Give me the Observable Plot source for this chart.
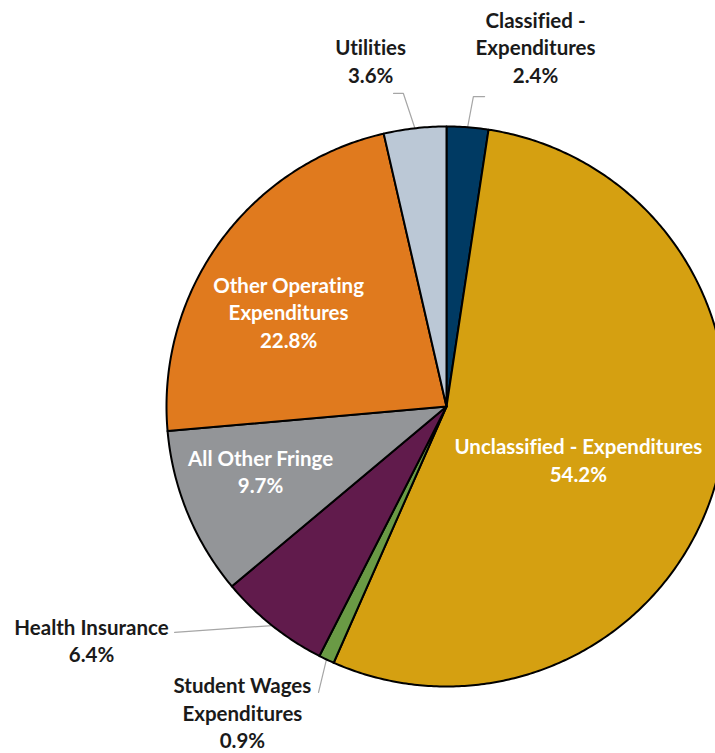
<!DOCTYPE html>
<html>
<head>
<meta charset="utf-8">
<script src="https://cdn.jsdelivr.net/npm/d3@7"></script>
<script src="https://cdn.jsdelivr.net/npm/@observablehq/plot@0.6"></script>
<style>
  html, body { margin: 0; padding: 0; background: #fff; overflow: hidden; }
  #chart svg { display: block; }
  #chart text { font-variant-ligatures: none; }
</style>
</head>
<body>
<div id="chart"></div>
<script>
// ---- Data ----
const categories = [
  "Classified - Expenditures",
  "Unclassified - Expenditures",
  "Student Wages Expenditures",
  "Health Insurance",
  "All Other Fringe",
  "Other Operating Expenditures",
  "Utilities"
];
const shares = [2.4, 54.2, 0.9, 6.4, 9.7, 22.8, 3.6];
const labelLines = [
  ["Classified -", "Expenditures"],
  ["Unclassified - Expenditures"],
  ["Student Wages", "Expenditures"],
  ["Health Insurance"],
  ["All Other Fringe"],
  ["Other Operating", "Expenditures"],
  ["Utilities"]
];
const sliceColors = ["#003A63", "#D5A011", "#6A9A45", "#611B4C", "#939598", "#E07A1E", "#BBC8D6"];
const labelColors = ["#1a1a1a", "#ffffff", "#1a1a1a", "#1a1a1a", "#ffffff", "#ffffff", "#1a1a1a"];

// ---- Layout (unit-circle coordinates, radius = 1) ----
const labelAnchor = [
  [0.318, 1.286],
  [0.471, -0.189],
  [-0.729, -1.091],
  [-1.268, -0.832],
  [-0.664, -0.230],
  [-0.564, 0.340],
  [-0.271, 1.236]
];
// leader elbow/end points for outside labels (null = inside label)
const leaderPts = [
  [[0.096, 1.107], [0.136, 1.107]],
  null,
  [[-0.457, -1.021]],
  [[-0.971, -0.807]],
  null,
  null,
  [[-0.154, 1.118], [-0.189, 1.118]]
];

// ---- Geometry via d3.pie ----
const arcs = d3.pie().sort(null).value(d => d)(shares);
const sliceRows = [];
arcs.forEach((a, i) => {
  const n = Math.max(2, Math.ceil((a.endAngle - a.startAngle) / 0.01));
  sliceRows.push({cat: categories[i], x: 0, y: 0});
  for (let k = 0; k <= n; k++) {
    const t = a.startAngle + (a.endAngle - a.startAngle) * k / n;
    sliceRows.push({cat: categories[i], x: Math.sin(t), y: Math.cos(t)});
  }
  sliceRows.push({cat: categories[i], x: 0, y: 0});
});

const leaderRows = [];
arcs.forEach((a, i) => {
  if (!leaderPts[i]) return;
  const m = (a.startAngle + a.endAngle) / 2;
  leaderRows.push({cat: categories[i], x: Math.sin(m), y: Math.cos(m)});
  leaderPts[i].forEach(p => leaderRows.push({cat: categories[i], x: p[0], y: p[1]}));
});

const labelRows = categories.map((c, i) => ({
  cat: c,
  x: labelAnchor[i][0],
  y: labelAnchor[i][1],
  text: labelLines[i].concat([shares[i].toFixed(1) + "%"]).join("\n"),
  color: labelColors[i]
}));

const W = 715, H = 753, CX = 446, CY = 406, R = 280;

const chart = Plot.plot({
  width: W,
  height: H,
  margin: 0,
  style: {background: "#fff", overflow: "hidden"},
  x: {domain: [-1, 1], range: [CX - R, CX + R], axis: null},
  y: {domain: [-1, 1], range: [CY + R, CY - R], axis: null},
  color: {domain: categories, range: sliceColors},
  marks: [
    Plot.line(leaderRows, {x: "x", y: "y", z: "cat", stroke: "#A6A6A6", strokeWidth: 1.2, curve: "linear"}),
    Plot.line(sliceRows, {x: "x", y: "y", z: "cat", fill: "cat", stroke: "#000", strokeWidth: 2, strokeLinejoin: "round", curve: "linear"}),
    Plot.text(labelRows, {
      x: "x", y: "y", text: "text", fill: d => d.color,
      fontFamily: "Lato", fontWeight: "bold", fontSize: 20.5,
      lineHeight: 1.34, textAnchor: "middle", lineAnchor: "middle"
    })
  ]
});
document.getElementById("chart").appendChild(chart);
</script>
</body>
</html>
